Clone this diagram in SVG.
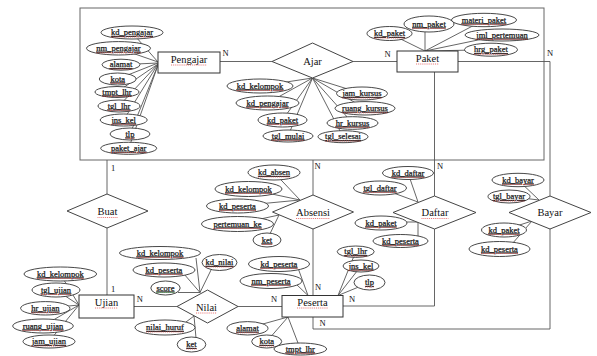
<svg xmlns="http://www.w3.org/2000/svg" width="597" height="356" viewBox="0 0 597 356">
  <style>
    text { font-family: "Liberation Serif", "Times New Roman", serif; fill: #111; }
    .ent rect { fill: #fff; stroke: #333; stroke-width: 1; }
    .ent text, .rel text { font-size: 10.5px; text-anchor: middle; }
    .rel polygon { fill: #fff; stroke: #444; stroke-width: 1; }
    .att ellipse { fill: #fff; stroke: #333; stroke-width: 0.9; }
    .att text { font-size: 8.5px; text-anchor: middle; text-decoration: underline; stroke: #222; stroke-width: 0.25; }
    .card { font-size: 8.5px; text-anchor: middle; }
    .sq { stroke: #e04848; stroke-width: 0.75; stroke-dasharray: 1 0.9; }
    .sq.g { stroke: #4aa850; }
    #connectors line, #connectors polyline { stroke: #555; stroke-width: 0.9; fill: none; }
    #agg-ajar rect { fill: none; stroke: #666; stroke-width: 1; }
  </style>

  <!-- aggregation: Pengajar - Ajar - Paket -->
  <g id="agg-ajar"><rect x="80" y="8" width="464" height="152"/></g>

  <g id="connectors">
    <!-- relationships -->
    <line x1="220" y1="61.5" x2="272" y2="61.5"/>
    <line x1="353" y1="61.5" x2="397" y2="61.5"/>
    <polyline points="458,61.5 550,61.5 550,196"/>
    <polyline points="550,229 550,329 313,329 313,317"/>
    <line x1="107" y1="160" x2="107" y2="194"/>
    <line x1="107" y1="228" x2="107" y2="295"/>
    <line x1="313" y1="160" x2="313" y2="195"/>
    <line x1="313" y1="229" x2="313" y2="295.5"/>
    <line x1="434.5" y1="72" x2="434.5" y2="196"/>
    <polyline points="434.5,229 434.5,306 343,306"/>
    <line x1="134" y1="306.5" x2="177" y2="306.5"/>
    <line x1="238" y1="306.5" x2="282" y2="306.5"/>

    <!-- Pengajar attributes -->
    <line x1="132" y1="32.5" x2="158" y2="62"/>
    <line x1="118.5" y1="48.3" x2="158" y2="62"/>
    <line x1="121" y1="64.7" x2="158" y2="63"/>
    <line x1="117.7" y1="79" x2="158" y2="63"/>
    <line x1="117" y1="92" x2="158" y2="64"/>
    <line x1="119" y1="106" x2="158" y2="64"/>
    <line x1="123.7" y1="120" x2="158" y2="64"/>
    <line x1="130" y1="134" x2="158" y2="65"/>
    <line x1="128.7" y1="148.3" x2="158" y2="65"/>

    <!-- Ajar attributes -->
    <line x1="260" y1="86" x2="312.5" y2="78"/>
    <line x1="267.5" y1="103" x2="312.5" y2="78"/>
    <line x1="282.5" y1="120" x2="312.5" y2="78"/>
    <line x1="288" y1="136" x2="312.5" y2="78"/>
    <line x1="362" y1="93.5" x2="312.5" y2="78"/>
    <line x1="365" y1="108.3" x2="312.5" y2="78"/>
    <line x1="352.5" y1="123" x2="312.5" y2="78"/>
    <line x1="343" y1="136.7" x2="312.5" y2="78"/>

    <!-- Paket attributes -->
    <line x1="389.5" y1="33.5" x2="425" y2="51"/>
    <line x1="425" y1="24" x2="425" y2="51"/>
    <line x1="484" y1="20" x2="425" y2="51"/>
    <line x1="502" y1="35" x2="425" y2="51"/>
    <line x1="491" y1="49.7" x2="425" y2="51"/>

    <!-- Absensi attributes -->
    <line x1="274" y1="172.5" x2="300" y2="200"/>
    <line x1="248.5" y1="189" x2="300" y2="200"/>
    <line x1="237.5" y1="206" x2="300" y2="200"/>
    <line x1="237.5" y1="224" x2="279" y2="215"/>
    <line x1="267" y1="240" x2="279" y2="215"/>

    <!-- Daftar attributes -->
    <line x1="408" y1="173" x2="418" y2="202"/>
    <line x1="380" y1="188" x2="418" y2="202"/>
    <line x1="381" y1="222" x2="418" y2="222"/>
    <line x1="418" y1="236" x2="418" y2="222"/>

    <!-- Bayar attributes -->
    <line x1="518" y1="180" x2="539" y2="200"/>
    <line x1="509" y1="196.5" x2="539" y2="200"/>
    <line x1="504" y1="230" x2="532" y2="221"/>
    <line x1="512" y1="244" x2="532" y2="221"/>

    <!-- Ujian attributes -->
    <line x1="60.3" y1="274" x2="79" y2="305"/>
    <line x1="56" y1="290" x2="79" y2="305"/>
    <line x1="45.3" y1="308.3" x2="79" y2="305"/>
    <line x1="43" y1="326" x2="79" y2="305"/>
    <line x1="49" y1="341.5" x2="79" y2="305"/>

    <!-- Nilai attributes -->
    <line x1="196" y1="258" x2="200" y2="292.5"/>
    <line x1="184" y1="274" x2="200" y2="292.5"/>
    <line x1="178" y1="292.5" x2="200" y2="292.5"/>
    <line x1="212" y1="268" x2="200" y2="292.5"/>
    <line x1="186" y1="322" x2="194" y2="316"/>
    <line x1="196" y1="338" x2="194" y2="316"/>

    <!-- Peserta attributes -->
    <line x1="298" y1="268" x2="308" y2="295.5"/>
    <line x1="296" y1="284" x2="308" y2="295.5"/>
    <line x1="355.7" y1="251.7" x2="338" y2="295.5"/>
    <line x1="361" y1="266" x2="338" y2="295.5"/>
    <line x1="369.5" y1="282.5" x2="338" y2="295.5"/>
    <line x1="247.5" y1="328.3" x2="288" y2="317"/>
    <line x1="266.7" y1="341.5" x2="288" y2="317"/>
    <line x1="300.3" y1="349" x2="288" y2="317"/>
  </g>

  <!-- cardinalities -->
  <g id="cardinality">
    <text class="card" x="225.5" y="56">N</text>
    <text class="card" x="387.5" y="57">N</text>
    <text class="card" x="550" y="56">N</text>
    <text class="card" x="317.5" y="169">N</text>
    <text class="card" x="440" y="169">N</text>
    <text class="card" x="113" y="171">1</text>
    <text class="card" x="113" y="292">1</text>
    <text class="card" x="139.7" y="302">N</text>
    <text class="card" x="274" y="302">N</text>
    <text class="card" x="318" y="289.5">N</text>
    <text class="card" x="352" y="301.5">N</text>
    <text class="card" x="322.5" y="325.5">N</text>
  </g>

  <!-- entities -->
  <g id="pengajar" class="ent"><rect x="158" y="52" width="62" height="21"/><text x="189" y="62.5">Pengajar</text><line class="sq" x1="171" y1="65" x2="207" y2="65"/></g>
  <g id="paket" class="ent"><rect x="397" y="51" width="61" height="21"/><text x="427.5" y="61.5">Paket</text><line class="sq" x1="416" y1="64" x2="439" y2="64"/></g>
  <g id="ujian" class="ent"><rect x="79" y="295" width="55" height="23"/><text x="106.5" y="305.5">Ujian</text><line class="sq" x1="95" y1="308" x2="118" y2="308"/></g>
  <g id="peserta" class="ent"><rect x="282" y="295.5" width="61" height="21.5"/><text x="312.5" y="305.5">Peserta</text><line class="sq" x1="297" y1="308" x2="328" y2="308"/></g>

  <!-- relationships -->
  <g id="ajar" class="rel"><polygon points="272,61.5 312.5,43 353,61.5 312.5,78"/><text x="312.5" y="65">Ajar</text></g>
  <g id="buat" class="rel"><polygon points="67,211 107,194 148,211 107,228"/><text x="107.5" y="215">Buat</text><line class="sq" x1="97.5" y1="217.5" x2="117.5" y2="217.5"/></g>
  <g id="absensi" class="rel"><polygon points="272.5,212 313,195 353.5,212 313,229"/><text x="313" y="216">Absensi</text><line class="sq" x1="296" y1="218.5" x2="330" y2="218.5"/></g>
  <g id="daftar" class="rel"><polygon points="393,212.5 434.5,196 476,212.5 434.5,229"/><text x="435" y="216">Daftar</text><line class="sq" x1="421.5" y1="218.5" x2="448.5" y2="218.5"/></g>
  <g id="bayar" class="rel"><polygon points="509,212.5 550,196 591,212.5 550,229"/><text x="550" y="216">Bayar</text></g>
  <g id="nilai" class="rel"><polygon points="177,306.5 207.5,290 238,306.5 207.5,323"/><text x="206.5" y="310.5">Nilai</text><line class="sq" x1="196" y1="313" x2="217" y2="313"/></g>

  <!-- Pengajar attributes -->
  <g id="pengajar-kd_pengajar" class="att"><ellipse cx="132" cy="32.5" rx="31" ry="6.5"/><text x="132" y="35">kd_pengajar</text><line class="sq" x1="111" y1="37" x2="153" y2="37"/></g>
  <g id="pengajar-nm_pengajar" class="att"><ellipse cx="118.5" cy="48.3" rx="32" ry="6.7"/><text x="118.5" y="50.8">nm_pengajar</text><line class="sq" x1="96.3" y1="52.8" x2="140.7" y2="52.8"/></g>
  <g id="pengajar-alamat" class="att"><ellipse cx="121" cy="64.7" rx="19" ry="5.5"/><text x="121" y="67.2">alamat</text><line class="sq" x1="109.7" y1="69" x2="132.3" y2="69"/></g>
  <g id="pengajar-kota" class="att"><ellipse cx="117.7" cy="79" rx="18.5" ry="6"/><text x="117.7" y="81.5">kota</text><line class="sq" x1="110.4" y1="83.3" x2="125" y2="83.3"/></g>
  <g id="pengajar-tmpt_lhr" class="att"><ellipse cx="117" cy="92" rx="22" ry="5.5"/><text x="117" y="94.5">tmpt_lhr</text><line class="sq" x1="102.4" y1="96.3" x2="131.6" y2="96.3"/></g>
  <g id="pengajar-tgl_lhr" class="att"><ellipse cx="119" cy="106" rx="21" ry="6"/><text x="119" y="108.5">tgl_lhr</text><line class="sq" x1="107.7" y1="110.3" x2="130.3" y2="110.3"/></g>
  <g id="pengajar-jns_kel" class="att"><ellipse cx="123.7" cy="120" rx="23.5" ry="6"/><text x="123.7" y="122.5">jns_kel</text><line class="sq" x1="111.4" y1="124.3" x2="136" y2="124.3"/></g>
  <g id="pengajar-tlp" class="att"><ellipse cx="130" cy="134" rx="20" ry="6"/><text x="130" y="136.5">tlp</text><line class="sq" x1="125.5" y1="138.3" x2="134.5" y2="138.3"/></g>
  <g id="pengajar-paket_ajar" class="att"><ellipse cx="128.7" cy="148.3" rx="28" ry="6"/><text x="128.7" y="150.8">paket_ajar</text><line class="sq" x1="111" y1="152.6" x2="146.4" y2="152.6"/></g>

  <!-- Ajar attributes -->
  <g id="ajar-kd_kelompok" class="att"><ellipse cx="260" cy="86" rx="33" ry="7"/><text x="260" y="88.5">kd_kelompok</text><line class="sq" x1="236.7" y1="90.5" x2="283.3" y2="90.5"/></g>
  <g id="ajar-kd_pengajar" class="att"><ellipse cx="267.5" cy="103" rx="31.5" ry="7"/><text x="267.5" y="105.5">kd_pengajar</text><line class="sq" x1="246.5" y1="107.5" x2="288.5" y2="107.5"/></g>
  <g id="ajar-kd_paket" class="att"><ellipse cx="282.5" cy="120" rx="24.5" ry="7"/><text x="282.5" y="122.5">kd_paket</text><line class="sq" x1="267" y1="124.5" x2="298" y2="124.5"/></g>
  <g id="ajar-tgl_mulai" class="att"><ellipse cx="288" cy="136" rx="25" ry="6"/><text x="288" y="138.5">tgl_mulai</text><line class="sq" x1="271.7" y1="140.3" x2="304.3" y2="140.3"/></g>
  <g id="ajar-jam_kursus" class="att"><ellipse cx="362" cy="93.5" rx="25.5" ry="6.5"/><text x="362" y="96">jam_kursus</text><line class="sq" x1="342.4" y1="98" x2="381.6" y2="98"/></g>
  <g id="ajar-ruang_kursus" class="att"><ellipse cx="365" cy="108.3" rx="30" ry="6.7"/><text x="365" y="110.8">ruang_kursus</text><line class="sq" x1="342.1" y1="112.8" x2="387.9" y2="112.8"/></g>
  <g id="ajar-hr_kursus" class="att"><ellipse cx="352.5" cy="123" rx="25.5" ry="6.3"/><text x="352.5" y="125.5">hr_kursus</text><line class="sq" x1="335.7" y1="127.4" x2="369.3" y2="127.4"/></g>
  <g id="ajar-tgl_selesai" class="att"><ellipse cx="343" cy="136.7" rx="25" ry="6"/><text x="343" y="139.2">tgl_selesai</text><line class="sq" x1="325.1" y1="141" x2="360.9" y2="141"/></g>

  <!-- Paket attributes -->
  <g id="paket-kd_paket" class="att"><ellipse cx="389.5" cy="33.5" rx="22.5" ry="7"/><text x="389.5" y="36">kd_paket</text><line class="sq" x1="374" y1="38" x2="405" y2="38"/></g>
  <g id="paket-nm_paket" class="att"><ellipse cx="429" cy="24" rx="25" ry="8"/><text x="429" y="26.5">nm_paket</text><line class="sq" x1="412.3" y1="28.5" x2="445.7" y2="28.5"/></g>
  <g id="paket-materi_paket" class="att"><ellipse cx="484" cy="20" rx="32.5" ry="6.7"/><text x="484" y="22.5">materi_paket</text><line class="sq" x1="461.9" y1="24.5" x2="506.1" y2="24.5"/></g>
  <g id="paket-jml_pertemuan" class="att"><ellipse cx="502" cy="35" rx="37" ry="6"/><text x="502" y="37.5">jml_pertemuan</text><line class="sq" x1="476.3" y1="39.3" x2="527.7" y2="39.3"/></g>
  <g id="paket-hrg_paket" class="att"><ellipse cx="491" cy="49.7" rx="26.5" ry="6.5"/><text x="491" y="52.2">hrg_paket</text><line class="sq" x1="474" y1="54.2" x2="508" y2="54.2"/></g>

  <!-- Absensi attributes -->
  <g id="absensi-kd_absen" class="att"><ellipse cx="274" cy="172.5" rx="26" ry="7.5"/><text x="274" y="175">kd_absen</text><line class="sq" x1="258" y1="177" x2="290" y2="177"/></g>
  <g id="absensi-kd_kelompok" class="att"><ellipse cx="248.5" cy="189" rx="33.5" ry="7.5"/><text x="248.5" y="191.5">kd_kelompok</text><line class="sq" x1="225.2" y1="193.5" x2="271.8" y2="193.5"/></g>
  <g id="absensi-kd_peserta" class="att"><ellipse cx="237.5" cy="206" rx="31" ry="7"/><text x="237.5" y="208.5">kd_peserta</text><line class="sq" x1="219" y1="210.5" x2="256" y2="210.5"/></g>
  <g id="absensi-pertemuan_ke" class="att"><ellipse cx="237.5" cy="224" rx="36" ry="7.5"/><text x="237.5" y="226.5">pertemuan_ke</text><line class="sq" x1="213.4" y1="228.5" x2="261.6" y2="228.5"/></g>
  <g id="absensi-ket" class="att"><ellipse cx="267" cy="240" rx="14" ry="7"/><text x="267" y="242.5">ket</text><line class="sq" x1="261.8" y1="244.5" x2="272.2" y2="244.5"/></g>

  <!-- Daftar attributes -->
  <g id="daftar-kd_daftar" class="att"><ellipse cx="408" cy="173" rx="25.5" ry="6.5"/><text x="408" y="175.5">kd_daftar</text><line class="sq" x1="391.7" y1="177.5" x2="424.3" y2="177.5"/></g>
  <g id="daftar-tgl_daftar" class="att"><ellipse cx="380" cy="188" rx="26.5" ry="7"/><text x="380" y="190.5">tgl_daftar</text><line class="sq" x1="363.5" y1="192.5" x2="396.5" y2="192.5"/></g>
  <g id="daftar-kd_paket" class="att"><ellipse cx="381" cy="223" rx="26" ry="7"/><text x="381" y="225.5">kd_paket</text><line class="sq" x1="365.5" y1="227.5" x2="396.5" y2="227.5"/></g>
  <g id="daftar-kd_peserta" class="att"><ellipse cx="400.5" cy="241" rx="27.5" ry="6.5"/><text x="400.5" y="243.5">kd_peserta</text><line class="sq" x1="382" y1="245.5" x2="419" y2="245.5"/></g>

  <!-- Bayar attributes -->
  <g id="bayar-kd_bayar" class="att"><ellipse cx="518" cy="180" rx="26" ry="6.7"/><text x="518" y="182.5">kd_bayar</text><line class="sq" x1="502.2" y1="184.5" x2="533.8" y2="184.5"/></g>
  <g id="bayar-tgl_bayar" class="att"><ellipse cx="509" cy="196.5" rx="21" ry="6.5"/><text x="509" y="199">tgl_bayar</text><line class="sq" x1="493" y1="201" x2="525" y2="201"/></g>
  <g id="bayar-kd_paket" class="att"><ellipse cx="504" cy="230" rx="22.5" ry="7"/><text x="504" y="232.5">kd_paket</text><line class="sq" x1="488.5" y1="234.5" x2="519.5" y2="234.5"/></g>
  <g id="bayar-kd_peserta" class="att"><ellipse cx="499.5" cy="249" rx="30.5" ry="7.5"/><text x="499.5" y="251.5">kd_peserta</text><line class="sq" x1="481" y1="253.5" x2="518" y2="253.5"/></g>

  <!-- Ujian attributes -->
  <g id="ujian-kd_kelompok" class="att"><ellipse cx="60.3" cy="274" rx="36.3" ry="7"/><text x="60.3" y="276.5">kd_kelompok</text><line class="sq" x1="37" y1="278.5" x2="83.6" y2="278.5"/></g>
  <g id="ujian-tgl_ujian" class="att"><ellipse cx="56" cy="290" rx="24" ry="7"/><text x="56" y="292.5">tgl_ujian</text><line class="sq" x1="40.9" y1="294.5" x2="71.1" y2="294.5"/></g>
  <g id="ujian-hr_ujian" class="att"><ellipse cx="45.3" cy="308.3" rx="24.7" ry="6.7"/><text x="45.3" y="310.8">hr_ujian</text><line class="sq" x1="31.1" y1="312.8" x2="59.5" y2="312.8"/></g>
  <g id="ujian-ruang_ujian" class="att"><ellipse cx="43" cy="326" rx="30.3" ry="7"/><text x="43" y="328.5">ruang_ujian</text><line class="sq" x1="22.7" y1="330.5" x2="63.3" y2="330.5"/></g>
  <g id="ujian-jam_ujian" class="att"><ellipse cx="49" cy="341.5" rx="26" ry="6.5"/><text x="49" y="344">jam_ujian</text><line class="sq" x1="32" y1="346" x2="66" y2="346"/></g>

  <!-- Nilai attributes -->
  <g id="nilai-kd_kelompok" class="att"><ellipse cx="160" cy="253" rx="40.5" ry="6.5"/><text x="160" y="255.5">kd_kelompok</text><line class="sq" x1="136.7" y1="257.5" x2="183.3" y2="257.5"/></g>
  <g id="nilai-kd_nilai" class="att"><ellipse cx="219.5" cy="262.5" rx="17.5" ry="8"/><text x="219.5" y="265">kd_nilai</text><line class="sq" x1="205.6" y1="267" x2="233.4" y2="267"/></g>
  <g id="nilai-kd_peserta" class="att"><ellipse cx="164" cy="270" rx="31" ry="7"/><text x="164" y="272.5">kd_peserta</text><line class="sq" x1="145.5" y1="274.5" x2="182.5" y2="274.5"/></g>
  <g id="nilai-score" class="att"><ellipse cx="165.5" cy="288" rx="14.7" ry="7"/><text x="165.5" y="290.5">score</text><line class="sq g" x1="156.5" y1="292.5" x2="174.5" y2="292.5"/></g>
  <g id="nilai-nilai_huruf" class="att"><ellipse cx="165" cy="327.5" rx="30" ry="7.5"/><text x="165" y="330">nilai_huruf</text><line class="sq" x1="146.1" y1="332" x2="183.9" y2="332"/></g>
  <g id="nilai-ket" class="att"><ellipse cx="191.5" cy="344.5" rx="14.3" ry="7.5"/><text x="191.5" y="347">ket</text><line class="sq" x1="186.3" y1="349" x2="196.7" y2="349"/></g>

  <!-- Peserta attributes -->
  <g id="peserta-kd_peserta" class="att"><ellipse cx="279" cy="264" rx="30.5" ry="7.5"/><text x="279" y="266.5">kd_peserta</text><line class="sq" x1="260.5" y1="268.5" x2="297.5" y2="268.5"/></g>
  <g id="peserta-nm_peserta" class="att"><ellipse cx="271" cy="281" rx="31" ry="7.5"/><text x="271" y="283.5">nm_peserta</text><line class="sq" x1="251.4" y1="285.5" x2="290.6" y2="285.5"/></g>
  <g id="peserta-alamat" class="att"><ellipse cx="247.5" cy="328.3" rx="20.5" ry="6.7"/><text x="247.5" y="330.8">alamat</text><line class="sq" x1="236.2" y1="332.8" x2="258.8" y2="332.8"/></g>
  <g id="peserta-kota" class="att"><ellipse cx="266.7" cy="341.5" rx="15" ry="6.5"/><text x="266.7" y="344">kota</text><line class="sq" x1="259.4" y1="346" x2="274" y2="346"/></g>
  <g id="peserta-tmpt_lhr" class="att"><ellipse cx="300.3" cy="349" rx="26.3" ry="6"/><text x="300.3" y="351.5">tmpt_lhr</text><line class="sq" x1="285.6" y1="353.3" x2="315" y2="353.3"/></g>
  <g id="peserta-tgl_lhr" class="att"><ellipse cx="355.7" cy="251.7" rx="18.5" ry="5.7"/><text x="355.7" y="254.2">tgl_lhr</text><line class="sq" x1="344.4" y1="256" x2="367" y2="256"/></g>
  <g id="peserta-jns_kel" class="att"><ellipse cx="361" cy="266" rx="18" ry="6"/><text x="361" y="268.5">jns_kel</text><line class="sq" x1="348.7" y1="270.3" x2="373.3" y2="270.3"/></g>
  <g id="peserta-tlp" class="att"><ellipse cx="369.5" cy="282.5" rx="15.5" ry="7.5"/><text x="369.5" y="285">tlp</text><line class="sq" x1="365" y1="287" x2="374" y2="287"/></g>
</svg>
